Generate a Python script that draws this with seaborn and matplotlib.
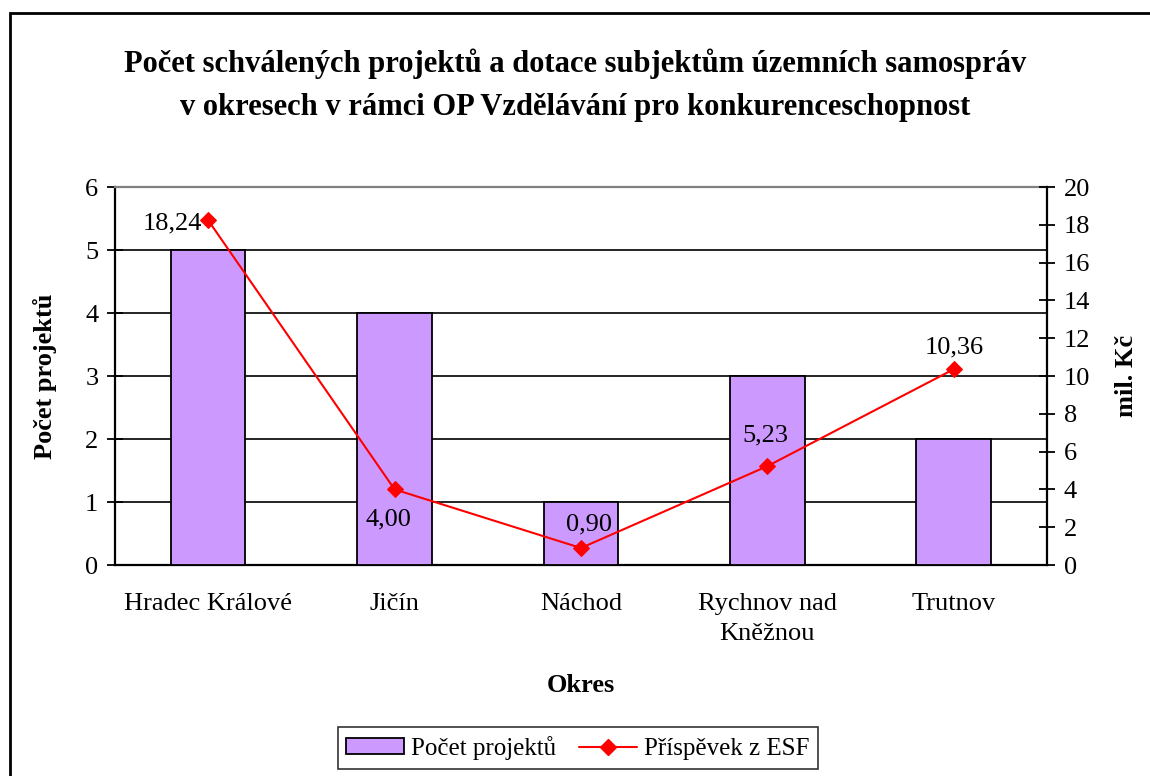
import numpy as np
import matplotlib
matplotlib.use("Agg")
import matplotlib.pyplot as plt
from matplotlib.patches import Patch, Rectangle
from matplotlib.lines import Line2D
import seaborn as sns

# data
okresy = ["Hradec Králové", "Jičín", "Náchod", "Rychnov nad\nKněžnou", "Trutnov"]
pocet_projektu = [5, 4, 1, 3, 2]
prispevek_esf = [18.24, 4.00, 0.90, 5.23, 10.36]
esf_labels = ["18,24", "4,00", "0,90", "5,23", "10,36"]

title = ("Počet schválených projektů a dotace subjektům územních samospráv\n"
         "v okresech v rámci OP Vzdělávání pro konkurenceschopnost")

sns.set_theme(style="white")
plt.rcParams["font.family"] = ["Liberation Serif", "DejaVu Serif"]
plt.rcParams.update({"text.color": "black", "axes.labelcolor": "black",
                     "xtick.color": "black", "ytick.color": "black"})

FS = 19

fig = plt.figure(figsize=(11.5, 7.76), dpi=100)
ax = fig.add_axes([0.1, 0.2719, 0.8104, 0.4871])

bar_color = "#CC99FF"
x = np.arange(len(okresy))

sns.barplot(x=x, y=pocet_projektu, ax=ax, color=bar_color, width=0.4,
            edgecolor="black", linewidth=1.3, saturation=1, zorder=3, native_scale=True)

ax.set_xlim(-0.5, len(okresy) - 0.5)
ax.set_ylim(0, 6)
ax.set_yticks(range(0, 7))
ax.yaxis.grid(True, color="black", linewidth=1.2, zorder=0)
ax.set_axisbelow(True)

# category labels in the slot centres, ticks on the boundaries
ax.set_xticks(x)
ax.set_xticklabels(okresy, fontsize=FS, linespacing=1.5)
ax.set_xticks(np.arange(-0.5, len(okresy)), minor=True)
ax.tick_params(axis="x", which="major", length=0, pad=20)
ax.tick_params(axis="x", which="minor", direction="inout", length=12, width=1.3, color="black")
ax.tick_params(axis="y", direction="inout", length=12, width=1.3, color="black",
               labelsize=FS, pad=6, left=True)

for side in ["left", "bottom"]:
    ax.spines[side].set_color("black")
    ax.spines[side].set_linewidth(1.6)
ax.spines["top"].set_color("#808080")
ax.spines["top"].set_linewidth(1.6)
ax.spines["right"].set_visible(False)

ax.set_xlabel("Okres", fontsize=FS, fontweight="bold", labelpad=21)
ax.set_ylabel("Počet projektů", fontsize=FS, fontweight="bold", labelpad=20)

# secondary axis with the ESF contribution
ax2 = ax.twinx()
sns.lineplot(x=x, y=prispevek_esf, ax=ax2, color="red", marker="D", markersize=8,
             markeredgecolor="red", linewidth=1.5, zorder=5)
ax2.set_ylim(0, 20)
ax2.set_yticks(range(0, 21, 2))
ax2.tick_params(axis="y", direction="inout", length=12, width=1.3, color="black",
                labelsize=FS, pad=6, right=True)
for side in ["left", "top", "bottom"]:
    ax2.spines[side].set_visible(False)
ax2.spines["right"].set_color("black")
ax2.spines["right"].set_linewidth(1.6)
ax2.set_ylabel("mil. Kč", fontsize=FS, fontweight="bold", labelpad=18)
ax2.grid(False)

offsets = [(-6, -3, "right", "center"), (-6, -30, "center", "center"),
           (8, 24, "center", "center"), (-2, 31, "center", "center"),
           (0, 22, "center", "center")]
for xi, val, lab, (dx, dy, ha, va) in zip(x, prispevek_esf, esf_labels, offsets):
    ax2.annotate(lab, xy=(xi, val), xytext=(dx, dy), textcoords="offset pixels",
                 ha=ha, va=va, fontsize=FS, color="black", zorder=6)

fig.suptitle(title, fontsize=22, fontweight="bold", y=0.937, linespacing=1.6)

handles = [Patch(facecolor=bar_color, edgecolor="black", linewidth=1.3),
           Line2D([], [], color="red", marker="D", markersize=8, linewidth=1.5)]
leg = fig.legend(handles, ["Počet projektů", "Příspěvek z ESF"], loc="center",
                 bbox_to_anchor=(0.5026, 0.036), ncol=2, fontsize=18, frameon=True,
                 fancybox=False, edgecolor="black", handlelength=2.3, handleheight=0.6,
                 columnspacing=0.9, handletextpad=0.3, borderpad=0.35)
leg.get_frame().set_linewidth(1.2)

# chart-area border, open at right and bottom like the reference crop
fig.patches.append(Rectangle((10 / 1150, -0.1), 1.2, 1 - 13 / 776 + 0.1,
                             transform=fig.transFigure, fill=False,
                             edgecolor="black", linewidth=2))

fig.savefig("out.png", dpi=100)
